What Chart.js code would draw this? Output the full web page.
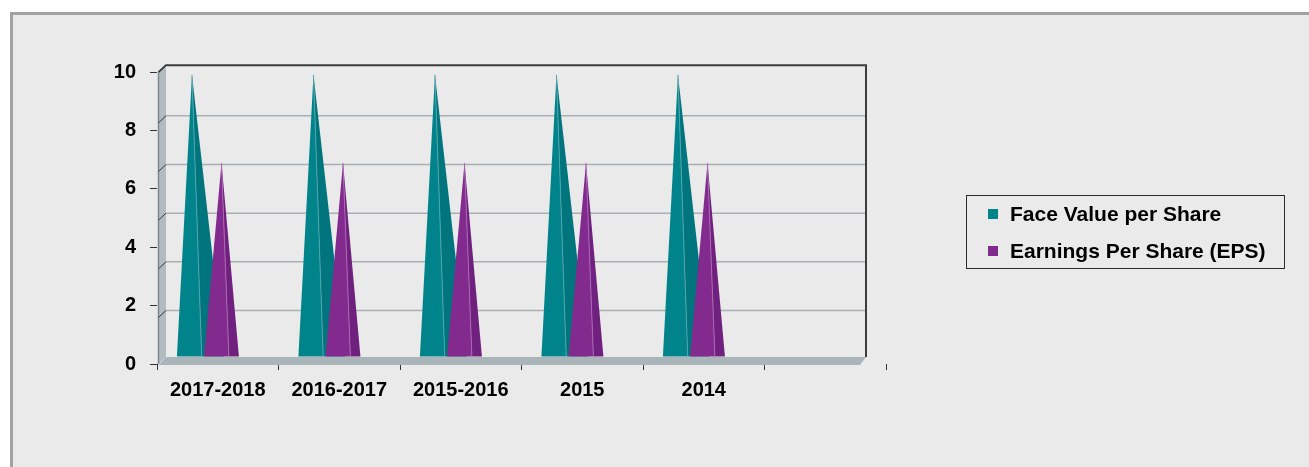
<!DOCTYPE html>
<html><head><meta charset="utf-8">
<script src="https://cdn.jsdelivr.net/npm/chart.js@4.4.1/dist/chart.umd.min.js"></script>
<style>
html,body{margin:0;padding:0;background:#fff;width:1309px;height:467px;overflow:hidden;}
#frame{position:absolute;left:10px;top:12px;width:1400px;height:500px;background:#EAEAEA;border-left:3px solid #A2A2A2;border-top:3px solid #A2A2A2;}
#c{position:absolute;left:0;top:0;}
</style></head><body>
<div id="frame"></div>
<canvas id="c" width="1309" height="467"></canvas>
<script>
const categories = ['2017-2018', '2016-2017', '2015-2016', '2015', '2014', ''];
const faceValuePerShare = [10, 10, 10, 10, 10, null];
const earningsPerShare = [6.88, 6.88, 6.88, 6.88, 6.88, null];
const yTickValues = [0, 2, 4, 6, 8, 10];
const seriesNames = ['Face Value per Share', 'Earnings Per Share (EPS)'];

const FONT = "'Liberation Sans', Arial, sans-serif";
const DEPTH_X = 9, DEPTH_Y = 7;

const wallPlugin = {
  id: 'wall3d',
  beforeDatasetsDraw(chart) {
    const {ctx, chartArea: a, scales} = chart;
    const yb = scales.yb;
    const L = a.left + 1.5, BL = a.left + DEPTH_X, BR = a.right - 20;
    const FB = a.bottom, BB = a.bottom - DEPTH_Y;
    const top = yb.getPixelForValue(yTickValues[yTickValues.length - 1]) - 2;
    ctx.save();
    // left wall
    ctx.fillStyle = '#B2BCC0';
    ctx.beginPath();
    ctx.moveTo(L, top + DEPTH_Y); ctx.lineTo(BL, top); ctx.lineTo(BL, BB); ctx.lineTo(L, FB); ctx.closePath();
    ctx.fill();
    ctx.strokeStyle = '#7E898E'; ctx.lineWidth = 1.5;
    ctx.beginPath(); ctx.moveTo(L, top + DEPTH_Y); ctx.lineTo(L, FB); ctx.stroke();
    // back gridlines
    yTickValues.slice(0, -1).forEach(v => {
      const y = yb.getPixelForValue(v);
      ctx.strokeStyle = '#A9B0B5'; ctx.lineWidth = 1.5;
      ctx.beginPath(); ctx.moveTo(BL, y); ctx.lineTo(BR, y); ctx.stroke();
      ctx.strokeStyle = '#3A3A3A'; ctx.lineWidth = 1;
      ctx.beginPath(); ctx.moveTo(L, y + DEPTH_Y); ctx.lineTo(BL, y); ctx.stroke();
    });
    // wall top and right edges
    ctx.strokeStyle = '#3C3C3C'; ctx.lineWidth = 2;
    ctx.beginPath(); ctx.moveTo(L, top + DEPTH_Y); ctx.lineTo(BL, top); ctx.lineTo(BR, top); ctx.lineTo(BR, BB); ctx.stroke();
    // floor
    ctx.fillStyle = '#AAB5BA';
    ctx.beginPath();
    ctx.moveTo(L, FB + 1); ctx.lineTo(BL, BB); ctx.lineTo(BR, BB); ctx.lineTo(BR - 6, FB + 1); ctx.closePath();
    ctx.fill();
    ctx.restore();
  },
  beforeDatasetDraw() { return false; },
  afterDatasetsDraw(chart) {
    const ctx = chart.ctx;
    ctx.save();
    chart.data.datasets.forEach((ds, i) => {
      const meta = chart.getDatasetMeta(i);
      const c = ds.cone;
      meta.data.forEach((el, j) => {
        if (ds.data[j] == null) return;
        const p = el.getProps(['x', 'y', 'base', 'width'], true);
        const w = p.width;
        const cx = p.x + c.shift * w;
        const baseY = p.base - DEPTH_Y;
        const apexY = baseY - (p.base - p.y) * 0.966;
        const ax = cx + c.a * w, lx = cx + c.l * w, sx = cx + c.s * w, rx = cx + c.r * w;
        ctx.fillStyle = c.light;
        ctx.beginPath(); ctx.moveTo(ax, apexY); ctx.lineTo(lx, baseY); ctx.lineTo(sx, baseY); ctx.closePath(); ctx.fill();
        ctx.fillStyle = c.dark;
        ctx.beginPath(); ctx.moveTo(ax, apexY); ctx.lineTo(sx, baseY); ctx.lineTo(rx, baseY); ctx.closePath(); ctx.fill();
        ctx.strokeStyle = c.line; ctx.lineWidth = 1;
        ctx.beginPath(); ctx.moveTo(ax, apexY); ctx.lineTo(sx, baseY); ctx.stroke();
      });
    });
    ctx.restore();
  }
};

const legendPlugin = {
  id: 'boxLegend',
  afterDraw(chart) {
    const ctx = chart.ctx;
    const box = {x: 966.5, y: 195.5, w: 318, h: 73};
    ctx.save();
    ctx.strokeStyle = '#2B2B2B'; ctx.lineWidth = 1;
    ctx.strokeRect(box.x, box.y, box.w, box.h);
    ctx.font = 'bold 21px ' + FONT;
    ctx.textBaseline = 'middle'; ctx.textAlign = 'left';
    chart.data.datasets.forEach((ds, i) => {
      const cy = 214 + i * 37;
      ctx.fillStyle = ds.backgroundColor;
      ctx.fillRect(988, cy - 5, 10, 10);
      ctx.fillStyle = '#000';
      ctx.fillText(ds.label, 1010, cy + 1);
    });
    ctx.restore();
  }
};

const tickFont = {family: FONT, size: 20, weight: 'bold'};

new Chart(document.getElementById('c'), {
  type: 'bar',
  data: {
    labels: categories,
    datasets: [
      {label: seriesNames[0], data: faceValuePerShare, backgroundColor: '#00838B',
       cone: {shift: -0.373, l: -0.51, a: 0, s: 0.33, r: 1.08, light: '#00838B', dark: '#00757E', line: '#4FA5AB'}},
      {label: seriesNames[1], data: earningsPerShare, backgroundColor: '#812A8E',
       cone: {shift: -0.373, l: -0.59, a: 0, s: 0.25, r: 0.59, light: '#832A8F', dark: '#70207E', line: '#A868B2'}}
    ]
  },
  options: {
    responsive: false,
    animation: false,
    devicePixelRatio: 1,
    categoryPercentage: 0.486,
    barPercentage: 1,
    layout: {padding: {left: 0, top: 72, right: 423, bottom: 0}},
    plugins: {legend: {display: false}, tooltip: {enabled: false}},
    scales: {
      x: {
        grid: {offset: true, drawOnChartArea: false, drawTicks: true, tickLength: 6, color: '#333', lineWidth: 1},
        border: {display: false},
        ticks: {font: tickFont, color: '#000', padding: 8, maxRotation: 0, autoSkip: false},
        afterFit(s) { s.height = 103; }
      },
      y: {
        min: 0, max: 10,
        afterBuildTicks(s) { s.ticks = yTickValues.map(v => ({value: v})); },
        ticks: {font: tickFont, color: '#000', padding: 14},
        grid: {drawOnChartArea: false, drawTicks: true, tickLength: 7, color: '#333', lineWidth: 1},
        border: {display: false},
        afterFit(s) { s.width = 157; }
      },
      yb: {type: 'linear', display: false, min: -2.2, max: 9.8}
    }
  },
  plugins: [wallPlugin, legendPlugin]
});
</script>
</body></html>
